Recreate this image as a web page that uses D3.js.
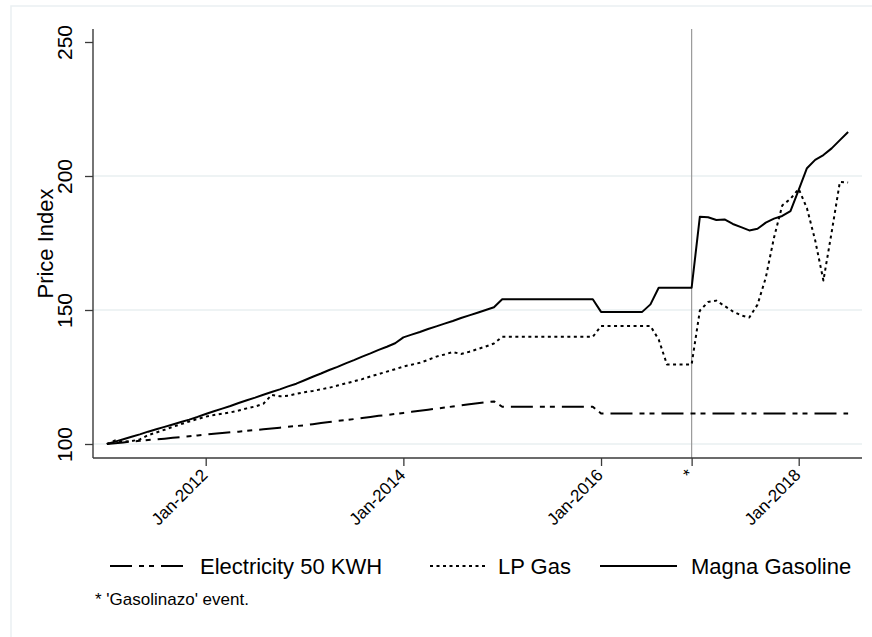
<!DOCTYPE html>
<html>
<head>
<meta charset="utf-8">
<script src="https://cdn.jsdelivr.net/npm/d3@7"></script>
<style>
  html, body { margin: 0; padding: 0; background: #ffffff; }
  svg { display: block; }
  text { font-family: "Liberation Sans", Arial, Helvetica, sans-serif; fill: #000; }
</style>
</head>
<body>
<svg id="chart" width="872" height="637"></svg>
<script>
// ---- data (monthly, index 0 = Jan-2011) ----
const monthIndex = d3.range(0, 91);

const gasoline = [
  100.0, 100.9, 101.8, 102.7, 103.6, 104.6, 105.5, 106.4, 107.3, 108.2, 109.1, 110.1,
  111.2, 112.2, 113.2, 114.2, 115.3, 116.3, 117.3, 118.4, 119.4, 120.4, 121.5, 122.5,
  123.8, 125.1, 126.3, 127.6, 128.8, 130.1, 131.3, 132.6, 133.8, 135.1, 136.3, 137.6,
  139.8, 140.8, 141.8, 142.9, 143.9, 144.9, 145.9, 147.0, 148.0, 149.0, 150.0, 151.0,
  154.0, 154.0, 154.0, 154.0, 154.0, 154.0, 154.0, 154.0, 154.0, 154.0, 154.0, 154.0,
  149.3, 149.3, 149.3, 149.3, 149.3, 149.3, 152.1, 158.3, 158.3, 158.3, 158.3, 158.3,
  184.8, 184.6, 183.6, 183.8, 182.1, 180.9, 179.7, 180.3, 182.6, 184.1, 185.1, 186.9,
  194.8, 202.9, 206.0, 207.8, 210.3, 213.4, 216.4
];

const lpGas = [
  100.0, 101.3, 100.9, 101.1, 101.7, 103.3, 104.3, 105.3, 106.4, 107.4, 108.4, 109.3,
  110.2, 110.8, 111.3, 111.8, 112.5, 113.3, 114.0, 115.0, 118.3, 117.8, 118.0, 118.7,
  119.3, 119.8, 120.4, 121.0, 121.8, 122.6, 123.4, 124.2, 125.2, 126.1, 127.0, 127.9,
  128.9, 129.6, 130.3, 131.4, 132.6, 133.4, 134.3, 133.6, 134.4, 135.4, 136.4, 137.5,
  140.0, 140.0, 140.0, 140.0, 140.0, 140.0, 140.0, 140.0, 140.0, 140.0, 140.0, 140.0,
  144.0, 144.0, 144.0, 144.0, 144.0, 144.0, 144.0, 139.0, 129.7, 129.7, 129.7, 129.7,
  149.8, 153.0, 153.5, 151.5, 149.5, 148.0, 147.2, 152.0, 162.0, 177.0, 189.0, 191.5,
  195.2, 188.0, 176.0, 161.0, 179.0, 197.8, 197.6
];

const electricity = [
  100.0, 100.3, 100.6, 100.9, 101.2, 101.5, 101.7, 102.0, 102.3, 102.6, 102.9, 103.2,
  103.5, 103.8, 104.1, 104.4, 104.6, 104.9, 105.2, 105.5, 105.8, 106.1, 106.4, 106.7,
  107.0, 107.4, 107.8, 108.2, 108.6, 108.9, 109.3, 109.7, 110.1, 110.5, 110.8, 111.2,
  111.6, 112.0, 112.4, 112.8, 113.2, 113.6, 114.0, 114.4, 114.8, 115.2, 115.6, 115.9,
  113.9, 113.9, 113.9, 113.9, 113.9, 113.9, 113.9, 113.9, 113.9, 113.9, 113.9, 113.9,
  111.4, 111.4, 111.4, 111.4, 111.4, 111.4, 111.4, 111.4, 111.4, 111.4, 111.4, 111.4,
  111.4, 111.4, 111.4, 111.4, 111.4, 111.4, 111.4, 111.4, 111.4, 111.4, 111.4, 111.4,
  111.4, 111.4, 111.4, 111.4, 111.4, 111.4, 111.4
];

const seriesNames = ["Electricity 50 KWH", "LP Gas", "Magna Gasoline"];
const xTickValues = [12, 36, 60, 71, 84];
const xTickLabels = ["Jan-2012", "Jan-2014", "Jan-2016", "*", "Jan-2018"];
const yTickValues = [100, 150, 200, 250];
const yGridValues = [100, 150, 200];
const eventMonth = 71;
const yTitle = "Price Index";
const footnote = "* 'Gasolinazo' event.";

// ---- layout ----
const plot = { left: 93, right: 862, top: 29, bottom: 458 };
const svg = d3.select("#chart");

// outer graph frame
svg.append("rect")
  .attr("x", 11).attr("y", 6).attr("width", 1000).attr("height", 1000)
  .attr("fill", "#ffffff").attr("stroke", "#eaf0f2").attr("stroke-width", 1.5);

const x = d3.scaleLinear().domain([12, 84]).range([205.7, 798.7]);
const y = d3.scaleLinear().domain([100, 250]).range([444, 42]);

// grid
svg.append("g").selectAll("line").data(yGridValues).join("line")
  .attr("x1", plot.left).attr("x2", plot.right)
  .attr("y1", d => y(d)).attr("y2", d => y(d))
  .attr("stroke", "#e9eff1").attr("stroke-width", 1.3);

// event line
svg.append("line")
  .attr("x1", x(eventMonth)).attr("x2", x(eventMonth))
  .attr("y1", plot.top).attr("y2", plot.bottom)
  .attr("stroke", "#9a9a9a").attr("stroke-width", 1.2);

// series lines
const line = d3.line().x((d, i) => x(monthIndex[i])).y(d => y(d));
const styles = [
  { data: electricity, dash: "22,7,5,5,5,7" },
  { data: lpGas, dash: "3,3.5" },
  { data: gasoline, dash: null }
];
styles.forEach(s => {
  svg.append("path")
    .attr("d", line(s.data))
    .attr("fill", "none")
    .attr("stroke", "#000")
    .attr("stroke-width", 2)
    .attr("stroke-linejoin", "round")
    .attr("stroke-dasharray", s.dash);
});

// axes
const axisColor = "#3a3a3a";
const yAxis = svg.append("g")
  .attr("transform", `translate(${plot.left},0)`)
  .call(d3.axisLeft(y).tickValues(yTickValues).tickSize(8).tickFormat(d3.format("d")));
yAxis.select(".domain").remove();
yAxis.selectAll(".tick line").attr("stroke", axisColor).attr("stroke-width", 1.3);
yAxis.selectAll(".tick text")
  .attr("x", 0).attr("y", 0).attr("dy", 0)
  .attr("transform", "translate(-20.7,0) rotate(-90)")
  .attr("text-anchor", "middle")
  .style("font-size", "21px")
  .style("font-family", '"Liberation Sans", Arial, sans-serif')
  .attr("fill", "#000");
svg.append("line")
  .attr("x1", plot.left).attr("x2", plot.left)
  .attr("y1", plot.top).attr("y2", plot.bottom)
  .attr("stroke", axisColor).attr("stroke-width", 1.4);

const xAxis = svg.append("g")
  .attr("transform", `translate(0,${plot.bottom})`)
  .call(d3.axisBottom(x).tickValues(xTickValues).tickSize(8)
    .tickFormat((d, i) => xTickLabels[i]));
xAxis.select(".domain").remove();
xAxis.selectAll(".tick line").attr("stroke", axisColor).attr("stroke-width", 1.3);
xAxis.selectAll(".tick text")
  .attr("x", 0).attr("y", 0).attr("dy", 0)
  .attr("transform", "translate(2.5,18) rotate(-45)")
  .attr("text-anchor", "end")
  .style("font-size", "17px")
  .style("font-family", '"Liberation Sans", Arial, sans-serif')
  .attr("fill", "#000");
svg.append("line")
  .attr("x1", plot.left).attr("x2", plot.right)
  .attr("y1", plot.bottom).attr("y2", plot.bottom)
  .attr("stroke", axisColor).attr("stroke-width", 1.4);

// y title
svg.append("text")
  .attr("transform", `translate(52.7,${(plot.top + plot.bottom) / 2}) rotate(-90)`)
  .attr("text-anchor", "middle")
  .style("font-size", "22px")
  .text(yTitle);

// legend
const legendItems = [
  { name: seriesNames[0], dash: styles[0].dash, x1: 110, x2: 188, tx: 200 },
  { name: seriesNames[1], dash: styles[1].dash, x1: 430, x2: 486, tx: 498 },
  { name: seriesNames[2], dash: null, x1: 600, x2: 677, tx: 691 }
];
const legendY = 566;
const lg = svg.append("g");
legendItems.forEach(it => {
  lg.append("line")
    .attr("x1", it.x1).attr("x2", it.x2)
    .attr("y1", legendY).attr("y2", legendY)
    .attr("stroke", "#000").attr("stroke-width", 2)
    .attr("stroke-dasharray", it.dash);
  lg.append("text")
    .attr("x", it.tx).attr("y", 574)
    .style("font-size", "22px")
    .text(it.name);
});

// footnote
svg.append("text")
  .attr("x", 95).attr("y", 605)
  .style("font-size", "17px")
  .text(footnote);
</script>
</body>
</html>
